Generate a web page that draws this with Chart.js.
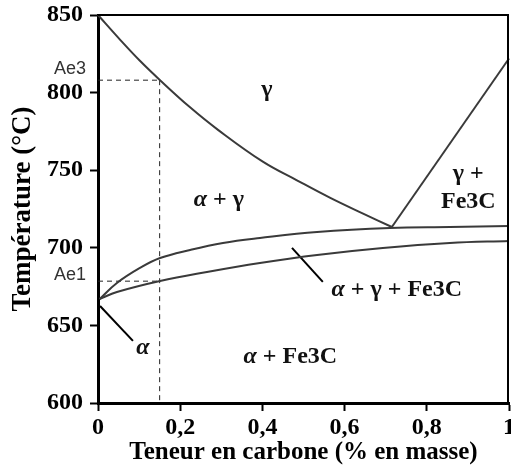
<!DOCTYPE html>
<html>
<head>
<meta charset="utf-8">
<script src="https://cdn.jsdelivr.net/npm/chart.js@4/dist/chart.umd.min.js"></script>
<style>
  html, body { margin: 0; padding: 0; background: #fff; }
  canvas { display: block; }
</style>
</head>
<body>
<canvas id="c" width="511" height="468"></canvas>
<script>
// ---- Data ----
const xTickValues = [0, 0.2, 0.4, 0.6, 0.8, 1];
const xTickLabels = ['0', '0,2', '0,4', '0,6', '0,8', '1'];
const yTickValues = [600, 650, 700, 750, 800, 850];
const yTickLabels = ['600', '650', '700', '750', '800', '850'];

// γ / α+γ boundary (A3)
const a3Carbon = [0, 0.054, 0.102, 0.151, 0.224, 0.292, 0.401, 0.484, 0.564, 0.645, 0.715];
const a3Temp   = [850, 834, 820.5, 808, 790.5, 776, 755.5, 743.5, 732.3, 722, 713.4];
// γ / γ+Fe3C boundary (Acm)
const acmCarbon = [0.715, 1.0];
const acmTemp   = [713.4, 822];
// upper boundary of α+γ+Fe3C
const upperCarbon = [0.004, 0.046, 0.102, 0.151, 0.224, 0.304, 0.394, 0.533, 0.71, 0.856, 1.0];
const upperTemp   = [667, 677.3, 687, 693.4, 698.6, 703.1, 706.3, 710.2, 712.8, 713.4, 714];
// lower boundary of α+γ+Fe3C
const lowerCarbon = [0.004, 0.046, 0.151, 0.265, 0.394, 0.533, 0.693, 0.856, 1.0];
const lowerTemp   = [667, 671.5, 678.6, 684.4, 690.2, 695.4, 699.9, 703.1, 704.4];
// label leader lines
const alphaLeaderCarbon = [0.005, 0.085];
const alphaLeaderTemp   = [662.5, 640];
const tripleLeaderCarbon = [0.472, 0.547];
const tripleLeaderTemp   = [700, 678];
// reference composition and temperatures
const refCarbon = 0.15;
const ae3Temp = 808;
const ae1Temp = 678.5;
const yMin = 600;

// Texts
const xTitle = 'Teneur en carbone (% en masse)';
const yTitle = 'Température (°C)';
const markerTexts = ['Ae3', 'Ae1'];
const markerTextTemps = [815.5, 682.5];
const phaseTexts   = ['γ', 'α + γ', 'γ +', 'Fe3C', 'α + γ + Fe3C', 'α + Fe3C', 'α'];
const phaseCarbon  = [0.411, 0.294, 0.901, 0.901, 0.727, 0.468, 0.109];
const phaseTemp    = [802, 730.8, 747.5, 729.5, 672.8, 629.6, 635.5];

const pts = (xs, ys) => xs.map((x, i) => ({ x: x, y: ys[i] }));
const SERIF = '"Liberation Serif", "Times New Roman", serif';

function curve(data, opts) {
  return Object.assign({
    data: data, showLine: true, pointRadius: 0, borderColor: '#3a3a3a',
    borderWidth: 2, fill: false, clip: false, tension: 0.4
  }, opts || {});
}

function drawRich(ctx, text, cx, cy, size) {
  const parts = Array.from(text).map(ch => ({
    ch: ch,
    font: (ch === 'α' ? 'italic bold ' : 'bold ') + size + 'px ' + SERIF
  }));
  let total = 0;
  parts.forEach(p => { ctx.font = p.font; p.w = ctx.measureText(p.ch).width; total += p.w; });
  let x = cx - total / 2;
  ctx.textAlign = 'left';
  ctx.textBaseline = 'middle';
  parts.forEach(p => { ctx.font = p.font; ctx.fillText(p.ch, x, cy); x += p.w; });
}

const decorPlugin = {
  id: 'decor',
  afterDatasetsDraw(chart) {
    const { ctx, chartArea, scales } = chart;
    ctx.save();
    // frame top & right
    ctx.strokeStyle = '#000';
    ctx.lineWidth = 2;
    ctx.beginPath();
    ctx.moveTo(chartArea.left, chartArea.top);
    ctx.lineTo(chartArea.right - 1, chartArea.top);
    ctx.lineTo(chartArea.right - 1, chartArea.bottom);
    ctx.stroke();
    // phase labels
    ctx.fillStyle = '#111';
    phaseTexts.forEach((t, i) => {
      drawRich(ctx, t, scales.x.getPixelForValue(phaseCarbon[i]), scales.y.getPixelForValue(phaseTemp[i]), 24);
    });
    // Ae3 / Ae1 labels
    ctx.fillStyle = '#333';
    ctx.font = '18px "Liberation Sans", Arial, sans-serif';
    ctx.textAlign = 'right';
    ctx.textBaseline = 'middle';
    markerTexts.forEach((t, i) => {
      ctx.fillText(t, 86, scales.y.getPixelForValue(markerTextTemps[i]));
    });
    ctx.restore();
  }
};

new Chart(document.getElementById('c'), {
  type: 'scatter',
  data: {
    datasets: [
      curve(pts(a3Carbon, a3Temp)),
      curve(pts(acmCarbon, acmTemp), { tension: 0 }),
      curve(pts(upperCarbon, upperTemp)),
      curve(pts(lowerCarbon, lowerTemp)),
      curve(pts(alphaLeaderCarbon, alphaLeaderTemp), { borderColor: '#000', tension: 0 }),
      curve(pts(tripleLeaderCarbon, tripleLeaderTemp), { borderColor: '#000', tension: 0 }),
      curve(pts([0, refCarbon], [ae3Temp, ae3Temp]), { borderColor: '#222', borderWidth: 1, borderDash: [5, 4], tension: 0 }),
      curve(pts([0, refCarbon], [ae1Temp, ae1Temp]), { borderColor: '#222', borderWidth: 1, borderDash: [5, 4], tension: 0 }),
      curve(pts([refCarbon, refCarbon], [ae3Temp, yMin]), { borderColor: '#222', borderWidth: 1, borderDash: [5, 4], tension: 0 })
    ]
  },
  options: {
    responsive: false,
    animation: false,
    events: [],
    layout: { padding: { top: 15, right: 2, left: 0, bottom: 0 } },
    plugins: { legend: { display: false }, tooltip: { enabled: false } },
    scales: {
      x: {
        type: 'linear', min: 0, max: 1,
        afterBuildTicks: s => { s.ticks = xTickValues.map(v => ({ value: v })); },
        afterFit: s => { s.height = 65; s.paddingLeft = 0; s.paddingRight = 0; },
        ticks: {
          callback: (v, i) => xTickLabels[i],
          color: '#000', padding: 2, maxRotation: 0, autoSkip: false,
          font: { family: SERIF, weight: 'bold', size: 24 }
        },
        grid: { drawOnChartArea: false, drawTicks: true, tickLength: 8, tickWidth: 2, tickColor: '#000' },
        border: { display: true, color: '#000', width: 3 },
        title: {
          display: true, text: xTitle, color: '#000',
          font: { family: SERIF, weight: 'bold', size: 25, lineHeight: 1.2 },
          padding: { top: 0, bottom: 0 }
        }
      },
      y: {
        type: 'linear', min: 600, max: 850,
        afterBuildTicks: s => { s.ticks = yTickValues.map(v => ({ value: v })); },
        afterFit: s => { s.width = 98; s.paddingTop = 0; s.paddingBottom = 0; },
        ticks: {
          callback: (v, i) => yTickLabels[i],
          color: '#000', padding: 7, autoSkip: false,
          font: { family: SERIF, weight: 'bold', size: 24 }
        },
        grid: { drawOnChartArea: false, drawTicks: true, tickLength: 8, tickWidth: 2, tickColor: '#000' },
        border: { display: true, color: '#000', width: 3 },
        title: {
          display: true, text: yTitle, color: '#000',
          font: { family: SERIF, weight: 'bold', size: 27, lineHeight: 1.2 },
          padding: { top: 7, bottom: 0 }
        }
      }
    }
  },
  plugins: [decorPlugin]
});
</script>
</body>
</html>
